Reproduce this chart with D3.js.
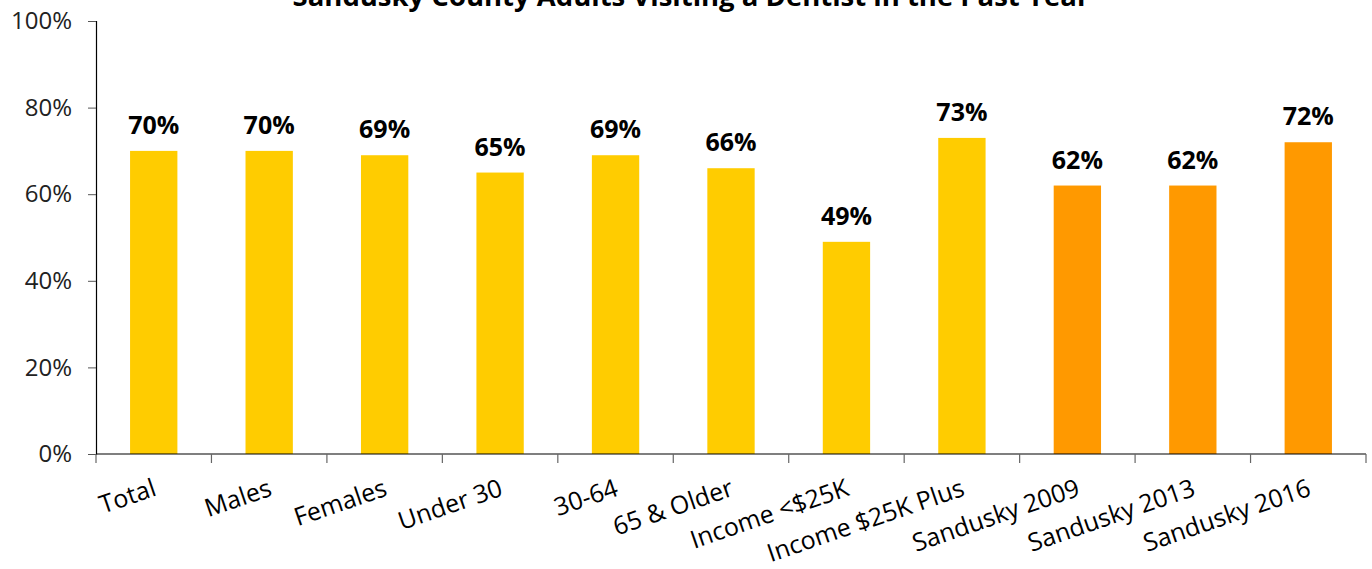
<!DOCTYPE html>
<html>
<head>
<meta charset="utf-8">
<script src="https://cdn.jsdelivr.net/npm/d3@7"></script>
<style>
  html, body { margin: 0; padding: 0; background: #fff; }
  svg { display: block; font-family: "Open Sans", "Noto Sans", sans-serif; }
</style>
</head>
<body>
<svg id="chart" width="1372" height="569"></svg>
<script>
// Share of Sandusky County adults who visited a dentist in the past year
const categories = ["Total", "Males", "Females", "Under 30", "30-64", "65 & Older",
  "Income <$25K", "Income $25K Plus", "Sandusky 2009", "Sandusky 2013", "Sandusky 2016"];
const values = [70, 70, 69, 65, 69, 66, 49, 73, 62, 62, 72];
const groups = ["2016", "2016", "2016", "2016", "2016", "2016", "2016", "2016", "trend", "trend", "trend"];
const yTicks = [0, 20, 40, 60, 80, 100];
const title = "Sandusky County Adults Visiting a Dentist in the Past Year";

const svg = d3.select("#chart");
const margin = { left: 96, right: 6, top: 21, bottom: 115 };
const W = 1372, H = 569;

const x = d3.scaleBand()
  .domain(categories)
  .range([margin.left, W - margin.right])
  .paddingInner(0.59)
  .paddingOuter(0.295);

const y = d3.scaleLinear().domain([0, 100]).range([H - margin.bottom, margin.top]);

const color = d3.scaleOrdinal().domain(["2016", "trend"]).range(["#FFCC00", "#FF9900"]);

// Title (sits at the very top edge)
svg.append("text")
  .attr("x", 691).attr("y", 6)
  .attr("text-anchor", "middle")
  .attr("font-weight", "bold")
  .attr("font-size", 27.5)
  .attr("fill", "#000")
  .text(title);

// Bars
svg.append("g").selectAll("rect")
  .data(categories)
  .join("rect")
  .attr("x", d => x(d))
  .attr("width", x.bandwidth())
  .attr("y", (d, i) => y(values[i]))
  .attr("height", (d, i) => y(0) - y(values[i]))
  .attr("fill", (d, i) => color(groups[i]));

// Value labels
svg.append("g").selectAll("text")
  .data(categories)
  .join("text")
  .attr("x", d => x(d) + x.bandwidth() / 2)
  .attr("y", (d, i) => y(values[i]) - 17)
  .attr("text-anchor", "middle")
  .attr("font-weight", "bold")
  .attr("font-size", 25)
  .attr("fill", "#000")
  .text((d, i) => values[i] + "%");

// Y axis
const yAxis = svg.append("g")
  .attr("transform", `translate(${margin.left},0)`)
  .call(d3.axisLeft(y).tickValues(yTicks).tickFormat(d => d + "%").tickSize(8).tickPadding(16));
yAxis.select(".domain").attr("stroke", "#000").attr("stroke-width", 1.2);
yAxis.selectAll(".tick line").attr("stroke", "#555");
yAxis.selectAll(".tick text")
  .attr("font-size", 24)
  .attr("font-family", "'Open Sans', 'Noto Sans', sans-serif")
  .attr("fill", "#222");

// X axis: boundary ticks between categories
const xAxisG = svg.append("g").attr("transform", `translate(0,${y(0)})`);
xAxisG.append("line")
  .attr("x1", margin.left).attr("x2", W - margin.right)
  .attr("y1", 0).attr("y2", 0)
  .attr("stroke", "#000").attr("stroke-width", 1.2);
const step = x.step();
const bounds = d3.range(categories.length + 1).map(i => margin.left + i * step);
xAxisG.selectAll("line.tick")
  .data(bounds)
  .join("line")
  .attr("class", "tick")
  .attr("x1", d => d).attr("x2", d => d)
  .attr("y1", 0).attr("y2", 9)
  .attr("stroke", "#666").attr("stroke-width", 1.2);

// Rotated category labels
xAxisG.selectAll("text")
  .data(categories)
  .join("text")
  .attr("text-anchor", "end")
  .attr("font-size", 25)
  .attr("fill", "#000")
  .attr("transform", d => `translate(${x(d) + x.bandwidth() / 2 + 4},${41}) rotate(-19)`)
  .text(d => d);
</script>
</body>
</html>
